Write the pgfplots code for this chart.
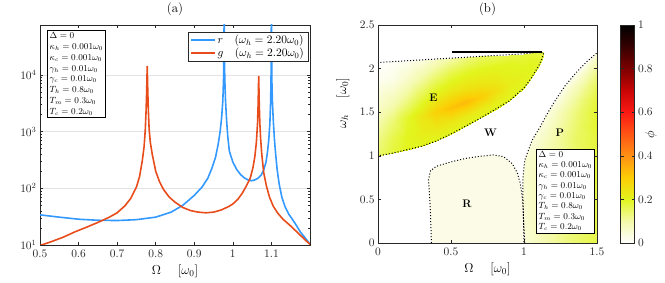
\RequirePackage{fix-cm}
\documentclass[border=0pt]{standalone}
\usepackage{pgfplots}
\pgfplotsset{compat=1.18}
\definecolor{cblue}{RGB}{51,153,255}
\definecolor{cred}{RGB}{232,76,26}
\definecolor{axgray}{RGB}{40,40,40}
\definecolor{rfill}{RGB}{251,251,231}
\pgfplotsset{
 myax/.style={scale only axis, anchor=south west,
   axis line style={axgray, line width=0.5pt}, tick style={axgray, line width=0.5pt},
   major tick length=3bp, minor tick length=1.8bp,
   tick label style={font=\fontsize{11.5}{13}\selectfont, text=axgray},
   xticklabel style={yshift=-2bp},
   label style={font=\fontsize{13}{15}\selectfont},
   title style={font=\fontsize{13}{15}\selectfont}},
 boundary/.style={black, line width=1pt, dash pattern=on 1pt off 2pt},
}
\begin{document}
\begin{tikzpicture}
\path[use as bounding box] (0,0) rectangle (665bp,283bp);
% ---------------- panel (a)
\begin{axis}[myax, at={(40bp,38bp)}, width=270bp, height=220bp,
  xmin=0.5, xmax=1.2, ymode=log, ymin=10, ymax=7.6e4,
  xtick={0.5,0.6,0.7,0.8,0.9,1,1.1}, ytick={10,100,1000,10000},
  ymajorgrids, major grid style={gray!22, line width=0.5pt},
  title={(a)}, xlabel={$\Omega\hspace{1.3em}[\omega_0]$},
  legend style={at={(0.993,0.97)}, anchor=north east, draw=axgray,
    font=\fontsize{11.5}{13}\selectfont, inner xsep=2pt, inner ysep=1pt, row sep=-1pt},
  legend cell align=left,
  legend image code/.code={\draw[#1] (0bp,0bp) -- (24bp,0bp);}]
\addplot[cblue, line width=1.6pt] coordinates {
(0.50,34) (0.55,31) (0.60,28.5) (0.65,27.3) (0.70,27) (0.75,28) (0.80,31) (0.84,38)
(0.87,50) (0.90,75) (0.92,105) (0.935,150) (0.945,220) (0.955,350) (0.962,600)
(0.967,1000) (0.971,1800) (0.974,3500) (0.976,9000) (0.977,30000) (0.9775,300000)
(0.978,30000) (0.979,9000) (0.981,3500) (0.984,1500) (0.987,800) (0.991,450)
(1.000,290) (1.010,215) (1.020,175) (1.030,152) (1.040,140) (1.048,136) (1.056,140)
(1.065,150) (1.073,170) (1.080,210) (1.086,290) (1.090,450) (1.093,700) (1.096,1400)
(1.098,3500) (1.099,9000) (1.0995,30000) (1.100,300000) (1.1005,30000) (1.101,9000)
(1.1025,3500) (1.105,1500) (1.108,700) (1.111,400) (1.115,210) (1.120,120) (1.127,70)
(1.135,48) (1.145,35) (1.155,28) (1.165,22) (1.175,17) (1.185,14) (1.195,11.5) (1.2,10.3)
};
\addlegendentry{$r\quad(\omega_h = 2.20\omega_0)$}
\addplot[cred, line width=1.6pt] coordinates {
(0.50,9.8) (0.53,11.5) (0.56,13.7) (0.59,17) (0.62,20.5) (0.65,25) (0.68,31) (0.70,37)
(0.72,49) (0.735,66) (0.75,105) (0.758,160) (0.765,300) (0.77,550) (0.773,1100)
(0.775,2300) (0.7765,5000) (0.778,14500) (0.7795,5000) (0.781,2300) (0.783,1100)
(0.786,650) (0.791,400) (0.80,200) (0.81,130) (0.82,96) (0.835,70) (0.85,57) (0.87,46)
(0.89,40.5) (0.91,38) (0.93,37) (0.95,38) (0.97,41.5) (0.99,48) (1.00,53) (1.013,64)
(1.025,83) (1.035,110) (1.045,150) (1.052,230) (1.057,360) (1.061,650) (1.064,1400)
(1.0655,3000) (1.067,9600) (1.0685,3000) (1.070,1400) (1.072,750) (1.075,400)
(1.080,190) (1.087,110) (1.095,70) (1.105,48) (1.117,36) (1.13,28.5) (1.152,21)
(1.17,16) (1.185,12.8) (1.2,10.2)
};
\addlegendentry{$g\quad(\omega_h = 2.20\omega_0)$}
\node[draw=black, fill=white, anchor=north west, align=left, inner sep=2.5pt,
  font=\fontsize{9}{10.8}\selectfont] at (rel axis cs:0.026,0.977)
 {$\Delta=0$\\ $\kappa_h=0.001\omega_0$\\ $\kappa_c=0.001\omega_0$\\ $\gamma_h=0.01\omega_0$\\
  $\gamma_c=0.01\omega_0$\\ $T_h=0.8\omega_0$\\ $T_m=0.3\omega_0$\\ $T_c=0.2\omega_0$};
\end{axis}
% ---------------- panel (b)
\begin{axis}[myax, at={(378bp,40bp)}, width=219bp, height=218bp,
  xmin=0, xmax=1.5, ymin=0, ymax=2.5, xtick={0,0.5,1,1.5}, ytick={0,0.5,1,1.5,2,2.5},
  axis on top, title={(b)}, xlabel={$\Omega\hspace{1.3em}[\omega_0]$},
  ylabel={$\omega_h\hspace{1.3em}[\omega_0]$},
  ylabel style={at={(axis description cs:-0.115,0.64)}, anchor=south},
  colormap={hotr}{rgb255=(255,255,255) rgb255=(244,250,170) rgb255=(226,245,30)
    rgb255=(252,205,5) rgb255=(255,145,20) rgb255=(255,85,20) rgb255=(250,25,20)
    rgb255=(200,5,5) rgb255=(125,0,0) rgb255=(55,0,0) rgb255=(0,0,0)},
  point meta min=0, point meta max=1,
  colorbar,
  colorbar style={at={(parent axis.north east)}, anchor=north west, xshift=15bp,
    scale only axis, width=14bp, height=218bp, ytick={0,0.2,0.4,0.6,0.8,1},
    major tick length=3bp, axis line style={axgray, line width=0.5pt},
    tick style={axgray, line width=0.5pt},
    tick label style={font=\fontsize{11.5}{13}\selectfont, text=axgray}}]
% region E
\addplot[surf, shader=interp, mesh/rows=14, mesh/cols=6, point meta=explicit]
 table[x=x, y=y, meta=c] {
x y c
0 1.00 0.15
0 1.16 0.13
0 1.37 0.10
0 1.59 0.06
0 1.86 0.02
0 2.07 0.00
0.1 1.03 0.18
0.1 1.19 0.17
0.1 1.40 0.14
0.1 1.61 0.09
0.1 1.87 0.03
0.1 2.08 0.01
0.2 1.07 0.20
0.2 1.22 0.20
0.2 1.43 0.19
0.2 1.63 0.13
0.2 1.89 0.06
0.2 2.09 0.02
0.3 1.11 0.20
0.3 1.26 0.22
0.3 1.46 0.24
0.3 1.65 0.18
0.3 1.90 0.10
0.3 2.10 0.04
0.4 1.17 0.20
0.4 1.31 0.23
0.4 1.50 0.29
0.4 1.69 0.22
0.4 1.92 0.14
0.4 2.11 0.07
0.5 1.25 0.20
0.5 1.38 0.23
0.5 1.55 0.32
0.5 1.73 0.24
0.5 1.95 0.17
0.5 2.12 0.10
0.6 1.34 0.20
0.6 1.46 0.23
0.6 1.62 0.33
0.6 1.77 0.25
0.6 1.97 0.19
0.6 2.13 0.13
0.7 1.43 0.20
0.7 1.54 0.23
0.7 1.68 0.30
0.7 1.82 0.24
0.7 2.00 0.20
0.7 2.14 0.15
0.8 1.53 0.20
0.8 1.62 0.22
0.8 1.75 0.26
0.8 1.87 0.23
0.8 2.03 0.20
0.8 2.15 0.16
0.9 1.63 0.20
0.9 1.71 0.21
0.9 1.82 0.22
0.9 1.92 0.21
0.9 2.05 0.20
0.9 2.16 0.17
1.0 1.78 0.19
1.0 1.84 0.20
1.0 1.92 0.21
1.0 1.99 0.20
1.0 2.09 0.19
1.0 2.17 0.18
1.05 1.89 0.19
1.05 1.93 0.20
1.05 1.99 0.20
1.05 2.05 0.20
1.05 2.12 0.19
1.05 2.18 0.18
1.1 2.03 0.18
1.1 2.05 0.19
1.1 2.08 0.19
1.1 2.12 0.19
1.1 2.15 0.18
1.1 2.185 0.17
1.136 2.170 0.17
1.136 2.172 0.17
1.136 2.175 0.17
1.136 2.178 0.17
1.136 2.182 0.17
1.136 2.185 0.17
};
% region P
\addplot[surf, shader=interp, mesh/rows=13, mesh/cols=4, point meta=explicit]
 table[x=x, y=y, meta=c] {
x y c
1.005 0 0.05
1.17 0 0.10
1.335 0 0.14
1.5 0 0.17
0.997 0.25 0.05
1.165 0.25 0.10
1.332 0.25 0.14
1.5 0.25 0.17
0.993 0.5 0.05
1.162 0.5 0.10
1.331 0.5 0.14
1.5 0.5 0.17
0.993 0.75 0.05
1.162 0.75 0.10
1.331 0.75 0.14
1.5 0.75 0.18
1.005 0.95 0.05
1.17 0.95 0.10
1.335 0.95 0.14
1.5 0.95 0.18
1.056 1.18 0.04
1.204 1.18 0.10
1.352 1.18 0.15
1.5 1.18 0.18
1.11 1.33 0.04
1.24 1.33 0.10
1.37 1.33 0.15
1.5 1.33 0.19
1.165 1.5 0.04
1.277 1.5 0.10
1.388 1.5 0.15
1.5 1.5 0.19
1.216 1.64 0.03
1.311 1.64 0.09
1.405 1.64 0.14
1.5 1.64 0.18
1.28 1.8 0.03
1.353 1.8 0.08
1.427 1.8 0.12
1.5 1.8 0.16
1.355 1.95 0.02
1.403 1.95 0.06
1.452 1.95 0.10
1.5 1.95 0.13
1.43 2.08 0.02
1.453 2.08 0.05
1.477 2.08 0.07
1.5 2.08 0.10
1.495 2.18 0.02
1.497 2.18 0.04
1.498 2.18 0.05
1.5 2.18 0.06
};
% region R
\addplot[fill=rfill, draw=none] coordinates {
(0.366,0) (0.36,0.3) (0.355,0.5) (0.345,0.72) (0.36,0.83) (0.4,0.88) (0.5,0.93)
(0.6,0.97) (0.7,0.995) (0.79,1.01) (0.86,0.99) (0.92,0.91) (0.955,0.8) (0.975,0.68)
(0.99,0.5) (0.997,0.27) (1.0,0)} -- cycle;
% boundaries
\addplot[boundary] coordinates {
(0,1.0) (0,2.07) (0.1,2.08) (0.2,2.09) (0.3,2.10) (0.4,2.11) (0.5,2.12) (0.6,2.13)
(0.7,2.14) (0.8,2.15) (0.9,2.16) (1.0,2.17) (1.05,2.18) (1.1,2.185) (1.136,2.18)
(1.12,2.10) (1.1,2.03) (1.05,1.89) (1.0,1.78) (0.9,1.63) (0.8,1.53) (0.7,1.43)
(0.6,1.34) (0.5,1.25) (0.4,1.17) (0.3,1.11) (0.2,1.07) (0.1,1.03) (0,1.0)};
\addplot[boundary] coordinates {
(1.005,0) (0.997,0.25) (0.993,0.5) (0.993,0.75) (1.005,0.95) (1.056,1.18) (1.11,1.33)
(1.165,1.5) (1.216,1.64) (1.28,1.8) (1.355,1.95) (1.43,2.08) (1.5,2.18)};
\addplot[boundary] coordinates {
(0.366,0) (0.36,0.3) (0.355,0.5) (0.345,0.72) (0.36,0.83) (0.4,0.88) (0.5,0.93)
(0.6,0.97) (0.7,0.995) (0.79,1.01) (0.86,0.99) (0.92,0.91) (0.955,0.8) (0.975,0.68)
(0.99,0.5) (0.997,0.27) (1.0,0)};
\addplot[boundary] coordinates {(0,0) (0.366,0)};
\addplot[boundary] coordinates {(1.0,0) (1.5,0)};
\addplot[black, line width=1.5pt] coordinates {(0.506,2.19) (1.124,2.19)};
\node[font=\bfseries\fontsize{11}{13}\selectfont] at (axis cs:0.38,1.67) {E};
\node[font=\bfseries\fontsize{11}{13}\selectfont] at (axis cs:0.77,1.265) {W};
\node[font=\bfseries\fontsize{11}{13}\selectfont] at (axis cs:1.245,1.265) {P};
\node[font=\bfseries\fontsize{11}{13}\selectfont] at (axis cs:0.609,0.447) {R};
\node[draw=black, fill=white, anchor=south east, align=left, inner sep=2.5pt,
  font=\fontsize{9}{10.3}\selectfont] at (axis cs:1.484,0.115)
 {$\Delta=0$\\ $\kappa_h=0.001\omega_0$\\ $\kappa_c=0.001\omega_0$\\ $\gamma_h=0.01\omega_0$\\
  $\gamma_c=0.01\omega_0$\\ $T_h=0.8\omega_0$\\ $T_m=0.3\omega_0$\\ $T_c=0.2\omega_0$};
\end{axis}
\node[rotate=90, font=\fontsize{13}{15}\selectfont] at (651bp,148bp) {$\phi$};
\end{tikzpicture}
\end{document}
